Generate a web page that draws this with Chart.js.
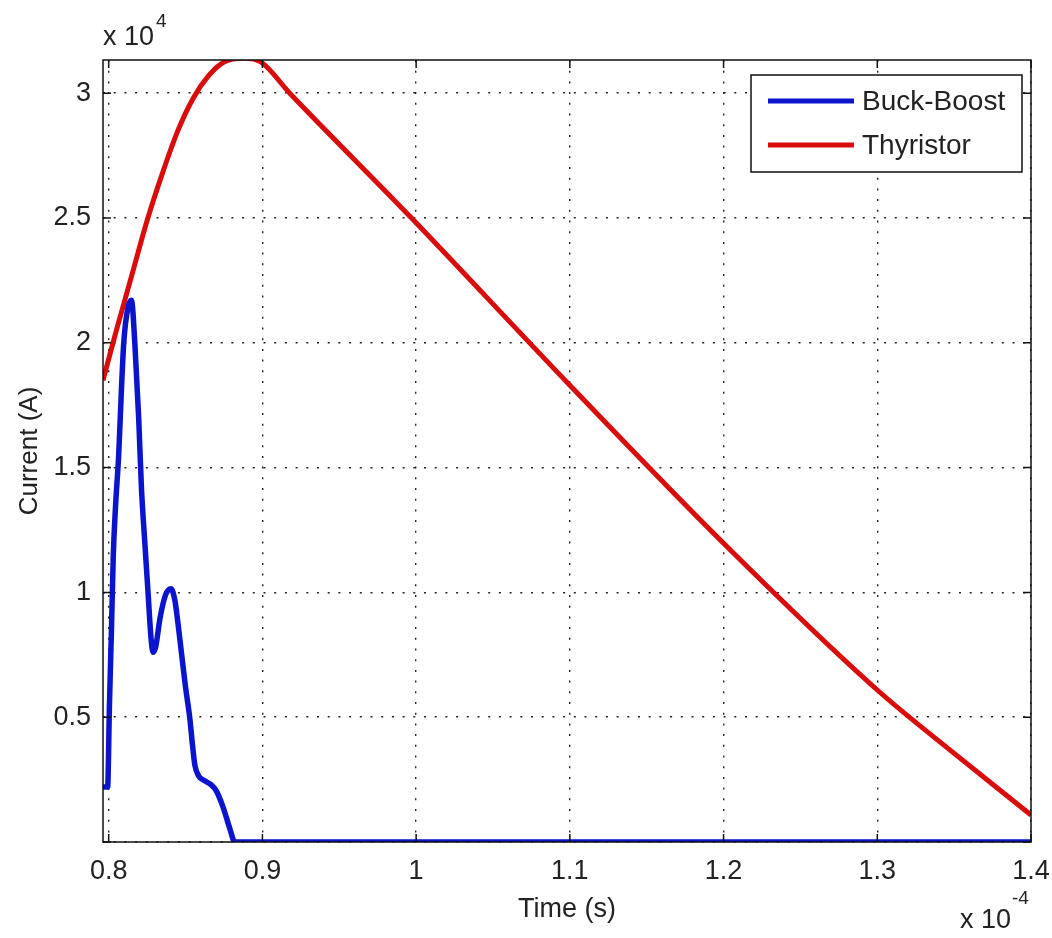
<!DOCTYPE html>
<html>
<head>
<meta charset="utf-8">
<script src="https://cdn.jsdelivr.net/npm/chart.js@4/dist/chart.umd.min.js"></script>
<style>
  body { margin: 0; background: #fff; }
  canvas { display: block; }
</style>
</head>
<body>
<canvas id="chart" width="1052" height="938"></canvas>
<script>
// time in units of 1e-4 s, current in units of 1e4 A
const xTicks = [0.8, 0.9, 1.0, 1.1, 1.2, 1.3, 1.4];
const yTicks = [0, 0.5, 1, 1.5, 2, 2.5, 3];

const buckTime = [0.7963, 0.7993, 0.8005, 0.8018, 0.8030, 0.8045, 0.8065, 0.8082, 0.8098, 0.8125,
  0.8148, 0.8170, 0.8195, 0.8213, 0.8235, 0.8256, 0.8275, 0.8288, 0.8305, 0.8335,
  0.8370, 0.8405, 0.8430, 0.8450, 0.8473, 0.8500, 0.8527, 0.8545, 0.8560, 0.8585,
  0.8625, 0.8665, 0.8700, 0.8744, 0.8790, 0.8820, 1.4];
const buckCurrent = [0.22, 0.22, 0.55, 0.85, 1.15, 1.35, 1.55, 1.8, 2.0, 2.14,
  2.17, 2.0, 1.7, 1.42, 1.2, 1.0, 0.82, 0.76, 0.78, 0.9,
  0.99, 1.015, 0.97, 0.88, 0.76, 0.62, 0.5, 0.39, 0.31, 0.265,
  0.245, 0.23, 0.205, 0.14, 0.05, 0.0, 0.0];

const thyTime = [0.7963, 0.805, 0.815, 0.825, 0.835, 0.845, 0.855, 0.865, 0.875, 0.888,
  0.899, 0.9178, 0.997, 1.1, 1.2, 1.3, 1.35, 1.4];
const thyCurrent = [1.85, 2.05, 2.27, 2.49, 2.68, 2.85, 2.98, 3.07, 3.125, 3.14,
  3.125, 3.0, 2.5, 1.83, 1.197, 0.609, 0.355, 0.108];

const font = 'Liberation Sans, Arial, sans-serif';
const textColor = '#222';

function toPoints(xs, ys) {
  return xs.map((x, i) => ({ x: x, y: ys[i] }));
}

// box, inward ticks, exponent labels and legend, drawn like the matlab figure
const matlabAxes = {
  id: 'matlabAxes',
  afterDatasetsDraw(chart) {
    const ctx = chart.ctx;
    const a = chart.chartArea;
    const xs = chart.scales.x;
    const ys = chart.scales.y;
    const tickLen = 8;

    ctx.save();
    ctx.strokeStyle = '#111';
    ctx.lineWidth = 1.5;
    ctx.strokeRect(a.left, a.top, a.right - a.left, a.bottom - a.top);

    ctx.beginPath();
    xTicks.forEach((t) => {
      const px = xs.getPixelForValue(t);
      ctx.moveTo(px, a.bottom);
      ctx.lineTo(px, a.bottom - tickLen);
      ctx.moveTo(px, a.top);
      ctx.lineTo(px, a.top + tickLen);
    });
    yTicks.forEach((t) => {
      const py = ys.getPixelForValue(t);
      ctx.moveTo(a.left, py);
      ctx.lineTo(a.left + tickLen, py);
      ctx.moveTo(a.right, py);
      ctx.lineTo(a.right - tickLen, py);
    });
    ctx.stroke();

    // exponent labels
    ctx.fillStyle = textColor;
    ctx.textAlign = 'left';
    ctx.textBaseline = 'alphabetic';
    ctx.font = '27px ' + font;
    ctx.fillText('x 10', a.left, 45);
    ctx.fillText('x 10', 960, 928);
    ctx.font = '19px ' + font;
    ctx.fillText('4', a.left + 53, 27);
    ctx.fillText('-4', 1012, 904);

    // legend
    const lx = 751, ly = 75, lw = 271, lh = 97;
    ctx.fillStyle = '#fff';
    ctx.fillRect(lx, ly, lw, lh);
    ctx.strokeStyle = '#111';
    ctx.lineWidth = 1.5;
    ctx.strokeRect(lx, ly, lw, lh);
    ctx.font = '28px ' + font;
    ctx.textBaseline = 'middle';
    chart.data.datasets.forEach((ds, i) => {
      const y = ly + 26 + i * 44;
      ctx.strokeStyle = ds.borderColor;
      ctx.lineWidth = 5;
      ctx.beginPath();
      ctx.moveTo(768, y);
      ctx.lineTo(854, y);
      ctx.stroke();
      ctx.fillStyle = textColor;
      ctx.fillText(ds.label, 862, y + 1);
    });
    ctx.restore();
  }
};

new Chart(document.getElementById('chart'), {
  type: 'line',
  data: {
    datasets: [
      {
        label: 'Buck-Boost',
        data: toPoints(buckTime, buckCurrent),
        borderColor: '#0a14cc',
        borderWidth: 5.5,
        pointRadius: 0,
        cubicInterpolationMode: 'monotone',
      },
      {
        label: 'Thyristor',
        data: toPoints(thyTime, thyCurrent),
        borderColor: '#d90b0b',
        borderWidth: 5,
        pointRadius: 0,
        cubicInterpolationMode: 'monotone',
      },
    ],
  },
  options: {
    responsive: false,
    animation: false,
    events: [],
    layout: { padding: { left: 0, top: 60, right: 21, bottom: 0 } },
    plugins: {
      legend: { display: false },
      tooltip: { enabled: false },
    },
    scales: {
      x: {
        type: 'linear',
        min: 0.7963,
        max: 1.4,
        afterFit: (scale) => {
          scale.height = 96;
          scale.paddingLeft = 0;
          scale.paddingRight = 0;
        },
        afterBuildTicks: (scale) => { scale.ticks = xTicks.map((v) => ({ value: v })); },
        grid: {
          color: '#222',
          lineWidth: 1.4,
          drawTicks: false,
        },
        border: { display: false, dash: [2, 8.7] },
        ticks: {
          padding: 13,
          color: textColor,
          font: { family: font, size: 27 },
          callback: (v) => String(Math.round(v * 10) / 10),
        },
        title: {
          display: true,
          text: 'Time (s)',
          color: textColor,
          font: { family: font, size: 27 },
          padding: { top: 0, bottom: 12 },
        },
      },
      y: {
        type: 'linear',
        min: 0,
        max: 3.133,
        afterFit: (scale) => {
          scale.width = 103;
          scale.paddingTop = 0;
          scale.paddingBottom = 0;
        },
        afterBuildTicks: (scale) => { scale.ticks = yTicks.map((v) => ({ value: v })); },
        grid: {
          color: '#222',
          lineWidth: 1.4,
          drawTicks: false,
        },
        border: { display: false, dash: [2, 8.7] },
        ticks: {
          padding: 12,
          color: textColor,
          font: { family: font, size: 27 },
          callback: (v) => (v === 0 ? '' : String(v)),
        },
        title: {
          display: true,
          text: 'Current (A)',
          color: textColor,
          font: { family: font, size: 26 },
          padding: { top: 14, bottom: 0 },
        },
      },
    },
  },
  plugins: [matlabAxes],
});
</script>
</body>
</html>
